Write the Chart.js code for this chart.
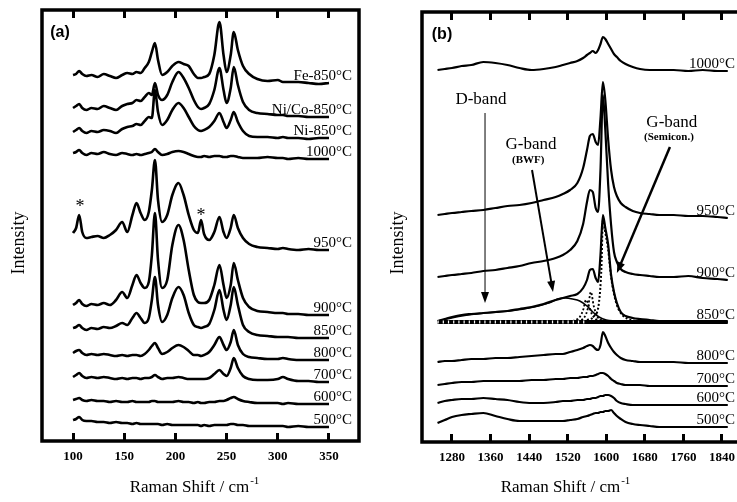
<!DOCTYPE html>
<html>
<head>
<meta charset="utf-8">
<script src="https://cdn.jsdelivr.net/npm/chart.js@4.4.1/dist/chart.umd.min.js"></script>
<style>
html, body { margin: 0; padding: 0; overflow: hidden; background: #fff; width: 737px; height: 502px; }
#panel-a { position: absolute; left: 0; top: 0; }
#panel-b { position: absolute; left: 370px; top: 0; }
</style>
</head>
<body>
<canvas id="panel-a" width="370" height="502"></canvas>
<canvas id="panel-b" width="390" height="502"></canvas>
<script>
"use strict";

/** PANEL (a) - low frequency region, 100-350 cm-1 **/

var shiftA = [100,103,106,109,113,118,124,130,136,142,148,153,158,162,166,170,174,177,180,183,
	187,192,197,203,208,213,218,222,225,228,233,238,243,247,250,254,257,261,266,272,
	280,290,300,305,310,320,330,340,350];
var ticksA = [100,150,200,250,300,350];
var namesA = ['Fe-850\u00B0C','Ni/Co-850\u00B0C','Ni-850\u00B0C','1000\u00B0C','950\u00B0C','900\u00B0C','850\u00B0C','800\u00B0C','700\u00B0C','600\u00B0C','500\u00B0C'];
// vertical offset of each spectrum (arb. units)
var offsetsA = [358,324,303,282,191,126,103,81,59,37,14];

var fe850 = [8,9,12,9,7,8,6,9,7,5,8,10,9,11,10,15,21,31,40,23,8,11,17,21,19,17,9,5,5,6,9,28,61,28,11,28,51,33,17,9,4,2,3,1,1,1,0,-1,0];
var niCo850 = [9,11,13,9,7,9,8,11,9,7,11,13,14,17,16,20,24,22,34,22,17,22,35,45,39,29,17,10,8,9,13,27,49,27,14,29,50,32,15,7,4,3,2,2,1,1,0,0,0];
var ni850 = [6,8,10,7,5,7,6,8,7,5,9,11,12,14,13,17,21,20,48,26,13,18,28,35,30,21,12,8,7,8,11,17,25,16,10,18,26,16,7,2,1,1,0,1,0,0,-1,0,0];
var a1000 = [6,7,9,6,4,6,5,7,5,4,6,5,4,5,4,5,6,7,10,7,4,5,7,8,7,5,3,2,2,3,2,3,3,2,2,3,3,2,1,1,1,2,1,1,0,1,0,0,0];
var a950 = [17,22,35,18,12,13,14,12,15,20,28,18,35,47,37,30,38,60,90,50,28,35,55,67,55,35,20,17,30,16,10,18,33,18,12,22,35,22,12,6,3,2,1,2,1,0,1,0,0];
var a900 = [10,12,15,11,9,11,10,12,10,15,23,17,30,40,32,27,33,60,102,55,27,35,70,90,75,45,20,13,12,12,15,30,50,30,17,30,52,35,17,8,4,3,2,2,1,1,0,0,0];
var a850 = [10,11,13,10,8,10,9,11,10,12,15,13,20,25,20,15,20,38,61,33,16,23,40,51,43,25,13,11,10,11,14,28,48,28,18,33,51,33,13,6,3,2,1,1,1,0,0,0,0];
var a800 = [7,9,10,7,5,6,5,6,5,4,5,4,5,5,4,6,10,14,17,12,6,8,12,15,13,9,5,5,4,5,8,15,23,15,10,18,30,15,6,3,2,1,1,2,1,0,0,0,0];
var a700 = [5,7,9,6,4,5,4,5,4,3,4,3,4,4,3,4,4,5,7,5,3,4,4,5,4,3,3,3,3,3,4,8,12,8,6,14,24,14,6,3,2,2,3,5,3,1,1,0,0];
var a600 = [4,5,6,4,3,4,3,3,2,3,2,2,3,2,2,2,2,3,3,2,2,2,2,3,2,2,1,2,1,1,2,2,3,3,4,6,7,5,3,2,1,1,1,0,1,0,0,0,0];
var a500 = [7,8,10,7,6,6,5,5,4,5,4,4,3,4,3,3,3,3,3,3,2,3,2,2,2,2,2,2,1,2,1,2,2,2,2,3,3,2,2,1,1,1,1,1,0,1,0,0,0];
var spectraA = [fe850, niCo850, ni850, a1000, a950, a900, a850, a800, a700, a600, a500];

// impurity peaks marked with '*'  [shift, intensity]
var starMarks = [[106.8, 238], [225, 229]];


/** PANEL (b) - D and G band region **/

var shiftB = [1250,1265,1280,1300,1320,1345,1370,1395,1420,1445,1470,1495,1510,1525,1540,1552,1560,1566,1572,1578,
	1583,1588,1593,1598,1604,1610,1616,1622,1630,1640,1655,1670,1690,1710,1740,1770,1800,1830,1852];
var ticksB = [1280,1360,1440,1520,1600,1680,1760,1840];
var namesB = ['1000\u00B0C','950\u00B0C','900\u00B0C','850\u00B0C','800\u00B0C','700\u00B0C','600\u00B0C','500\u00B0C'];
var offsetsB = [371,224,162,120,79,56,37,15];

var b1000 = [1,2,3,5,6,9,8,6,3,1,2,4,6,8,10,13,16,18,20,18,21,27,34,32,27,22,17,14,10,7,4,2,1,1,1,0,1,0,0];
var b950 = [3,4,5,6,7,8,10,12,13,15,18,21,24,28,35,50,68,82,84,76,73,100,136,118,78,48,31,22,15,11,7,5,4,3,3,2,2,1,0];
var b900 = [3,4,5,6,7,9,10,12,14,17,19,22,25,30,39,56,78,90,88,72,68,110,185,150,95,55,28,18,11,8,6,5,4,3,3,4,2,1,0];
var b850 = [1,3,5,7,8,9,10,11,13,15,18,22,24,26,28,34,42,52,53,44,40,67,107,94,77,47,30,19,10,6,4,3,2,1,1,1,0,0,0];
var b800 = [1,2,2,3,4,4,5,5,6,7,8,9,9,11,13,15,17,18,17,14,13,18,31,27,20,15,11,8,5,3,2,1,1,1,1,0,0,0,0];
var b700 = [1,2,3,4,4,5,5,5,5,6,6,7,7,8,8,9,9,10,10,11,12,13,13,12,10,7,5,3,2,1,1,1,0,0,0,0,0,0,0];
var b600 = [2,4,5,6,6,7,6,5,3,2,2,3,4,4,5,5,6,6,7,7,8,9,9,10,10,9,7,4,2,1,0,0,0,0,0,0,0,0,0];
var b500 = [4,7,10,12,13,14,11,8,6,6,6,6,6,7,8,10,11,12,13,14,14,15,15,16,16,17,14,11,8,5,3,2,1,0,0,0,0,0,0];
var spectraB = [b1000, b950, b900, b850, b800, b700, b600, b500];

// fitted components of the 850 C spectrum
var bwfShift = [1250,1300,1350,1400,1450,1480,1500,1515,1530,1545,1560,1572,1585,1600,1620];
var bwfValues = [1,6,9,11,15,19,23,24,23,21,16,10,5,2,1];
var lor1Shift = [1530,1545,1552,1558,1564,1570,1578,1590];
var lor1Values = [1,5,12,22,16,8,3,1];
var lor2Shift = [1540,1555,1562,1568,1574,1582,1595];
var lor2Values = [1,5,14,30,16,5,1];
var lor3Shift = [1560,1575,1585,1590,1593,1597,1604,1610,1620,1630,1645,1660];
var lor3Values = [2,6,20,55,102,92,72,45,20,9,3,1];
var baseShift = [1250,1852];
var baseTicked = [1250,1556];

// band annotations: text position and arrow [shift, intensity]
var bandNames = ['D-band','G-band','G-band'];
var bandSubs = ['','(BWF)','(Semicon.)'];
var bandText = [[1340,342],[1444,297],[1736,319]];
var bandSubText = [[0,0],[1438,282],[1730,305]];
var arrowFrom = [[1348.5,329],[1446,272],[1732,295]];
var arrowTo = [[1348.5,139],[1489.5,150],[1622,169]];
var arrowWidth = [1,2,2.5];


/** helpers **/

function toPoints(xs, ys, offset) {
	return xs.map(function(x, i) { return {x: x, y: offset + ys[i]}; });
}

// style: undefined = solid black, array = black dash, 'white' = white tick overlay
function traceSet(data, width, style, order) {
	var white = style === 'white';
	return {
		data: data,
		borderColor: white ? '#fff' : '#000',
		borderWidth: width,
		borderDash: white ? [1.2, 4] : (style || []),
		pointRadius: 0,
		tension: 0.3,
		cubicInterpolationMode: 'monotone',
		fill: false,
		order: order === undefined ? 1 : order
	};
}

function xAxis(position, min, max, tickValues, showLabels, size) {
	return {
		type: 'linear', position: position, min: min, max: max,
		afterBuildTicks: function(scale) {
			scale.ticks = tickValues.map(function(v) { return {value: v}; });
		},
		afterFit: function(scale) { scale.height = size; },
		border: {display: false},
		grid: {display: true, drawOnChartArea: false, drawTicks: true, tickLength: -8, tickWidth: 3, tickColor: '#000'},
		ticks: {
			display: showLabels, color: '#000', padding: 16, maxRotation: 0, autoSkip: false,
			font: {family: '"Liberation Serif", serif', size: 13, weight: 'bold'},
			callback: function(v) { return String(v); }
		}
	};
}

function yAxis(max, width) {
	return {
		type: 'linear', min: 0, max: max,
		afterFit: function(scale) { scale.width = width; },
		ticks: {display: false}, grid: {display: false}, border: {display: false}
	};
}

// frame, labels and titles that are drawn on top of the spectra
function decorPlugin(decor) {
	return {
		id: 'decor',
		afterDraw: function(chart) {
			var ctx = chart.ctx, area = chart.chartArea;
			var xs = chart.scales.x, ys = chart.scales.y;
			ctx.save();
			ctx.strokeStyle = '#000';
			ctx.fillStyle = '#000';
			ctx.lineWidth = 3.5;
			ctx.strokeRect(area.left, area.top, area.right - area.left, area.bottom - area.top);

			// spectrum labels, sitting on the right end of each trace
			ctx.font = '15px "Liberation Serif", serif';
			ctx.textAlign = 'right';
			ctx.textBaseline = 'alphabetic';
			decor.names.forEach(function(name, i) {
				ctx.fillText(name, xs.getPixelForValue(decor.labelAt), ys.getPixelForValue(decor.offsets[i]) - 3.5);
			});

			// panel tag
			ctx.font = 'bold 16px "Liberation Sans", sans-serif';
			ctx.textAlign = 'center';
			ctx.textBaseline = 'middle';
			ctx.fillText(decor.tag, xs.getPixelForValue(decor.tagAt[0]), ys.getPixelForValue(decor.tagAt[1]));

			// axis titles
			ctx.font = '17px "Liberation Serif", serif';
			var main = 'Raman Shift / cm';
			var wMain = ctx.measureText(main).width;
			ctx.font = '11px "Liberation Serif", serif';
			var wSup = ctx.measureText('-1').width;
			var x0 = decor.xTitle[0] - (wMain + wSup) / 2;
			ctx.textAlign = 'left';
			ctx.font = '17px "Liberation Serif", serif';
			ctx.fillText(main, x0, decor.xTitle[1]);
			ctx.font = '11px "Liberation Serif", serif';
			ctx.fillText('-1', x0 + wMain + 1, decor.xTitle[1] - 7);

			ctx.save();
			ctx.translate(decor.yTitle[0], decor.yTitle[1]);
			ctx.rotate(-Math.PI / 2);
			ctx.textAlign = 'center';
			ctx.font = '18px "Liberation Serif", serif';
			ctx.fillText('Intensity', 0, 0);
			ctx.restore();

			if (decor.extra) decor.extra(ctx, xs, ys);
			ctx.restore();
		}
	};
}


/** PANEL (a) **/

var datasetsA = spectraA.map(function(values, k) {
	return traceSet(toPoints(shiftA, values, offsetsA[k]), 2.6);
});

new Chart(document.getElementById('panel-a'), {
	type: 'line',
	data: {datasets: datasetsA},
	options: {
		responsive: false, animation: false, devicePixelRatio: 1,
		layout: {padding: {left: 0, right: 11, top: 0, bottom: 0}},
		plugins: {legend: {display: false}, tooltip: {enabled: false}},
		scales: {
			x: xAxis('bottom', 69.7, 379.3, ticksA, true, 61),
			xTop: xAxis('top', 69.7, 379.3, ticksA, false, 10),
			y: yAxis(431, 42)
		}
	},
	plugins: [decorPlugin({
		names: namesA, offsets: offsetsA, labelAt: 372.5,
		tag: '(a)', tagAt: [87.3, 408],
		xTitle: [194, 488], yTitle: [19, 243],
		extra: function(ctx, xs, ys) {
			ctx.font = '18px "Liberation Serif", serif';
			ctx.textAlign = 'center';
			ctx.textBaseline = 'alphabetic';
			starMarks.forEach(function(s) {
				ctx.fillText('*', xs.getPixelForValue(s[0]), ys.getPixelForValue(s[1]) + 9);
			});
		}
	})]
});


/** PANEL (b) **/

var datasetsB = spectraB.map(function(values, k) {
	return traceSet(toPoints(shiftB, values, offsetsB[k]), 2.2);
});
var off850 = offsetsB[3];
datasetsB.push(traceSet(toPoints(bwfShift, bwfValues, off850), 1.6));
datasetsB.push(traceSet(toPoints(lor1Shift, lor1Values, off850), 1.8, [2, 2]));
datasetsB.push(traceSet(toPoints(lor2Shift, lor2Values, off850), 1.8, [2, 2]));
datasetsB.push(traceSet(toPoints(lor3Shift, lor3Values, off850), 2, [2, 2]));
datasetsB.push(traceSet(toPoints(baseShift, [0, 0], off850), 4));
datasetsB.push(traceSet(toPoints(baseTicked, [0, 0], off850), 3, 'white', 0));

new Chart(document.getElementById('panel-b'), {
	type: 'line',
	data: {datasets: datasetsB},
	options: {
		responsive: false, animation: false, devicePixelRatio: 1,
		layout: {padding: {left: 0, right: 18, top: 0, bottom: 0}},
		plugins: {legend: {display: false}, tooltip: {enabled: false}},
		scales: {
			x: xAxis('bottom', 1217.8, 1881.5, ticksB, true, 60),
			xTop: xAxis('top', 1217.8, 1881.5, ticksB, false, 12),
			y: yAxis(430, 52)
		}
	},
	plugins: [decorPlugin({
		names: namesB, offsets: offsetsB, labelAt: 1867,
		tag: '(b)', tagAt: [1259.3, 407],
		xTitle: [195, 488], yTitle: [28, 243],
		extra: function(ctx, xs, ys) {
			ctx.textAlign = 'center';
			ctx.textBaseline = 'middle';
			bandNames.forEach(function(name, i) {
				ctx.font = '17px "Liberation Serif", serif';
				ctx.fillText(name, xs.getPixelForValue(bandText[i][0]), ys.getPixelForValue(bandText[i][1]));
				if (bandSubs[i]) {
					ctx.font = 'bold 11px "Liberation Serif", serif';
					ctx.fillText(bandSubs[i], xs.getPixelForValue(bandSubText[i][0]), ys.getPixelForValue(bandSubText[i][1]));
				}
				// arrow
				var x1 = xs.getPixelForValue(arrowFrom[i][0]), y1 = ys.getPixelForValue(arrowFrom[i][1]);
				var x2 = xs.getPixelForValue(arrowTo[i][0]), y2 = ys.getPixelForValue(arrowTo[i][1]);
				var ang = Math.atan2(y2 - y1, x2 - x1);
				ctx.lineWidth = arrowWidth[i];
				ctx.beginPath();
				ctx.moveTo(x1, y1);
				ctx.lineTo(x2 - 8 * Math.cos(ang), y2 - 8 * Math.sin(ang));
				ctx.stroke();
				ctx.beginPath();
				ctx.moveTo(x2, y2);
				ctx.lineTo(x2 - 11 * Math.cos(ang) + 4 * Math.sin(ang), y2 - 11 * Math.sin(ang) - 4 * Math.cos(ang));
				ctx.lineTo(x2 - 11 * Math.cos(ang) - 4 * Math.sin(ang), y2 - 11 * Math.sin(ang) + 4 * Math.cos(ang));
				ctx.closePath();
				ctx.fill();
			});
		}
	})]
});
</script>
</body>
</html>
